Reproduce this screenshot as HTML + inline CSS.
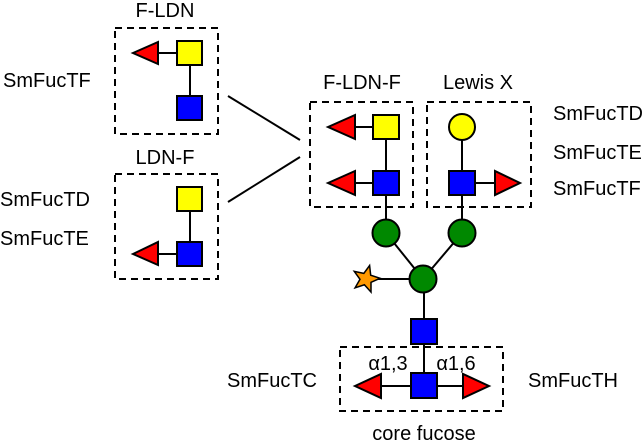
<!DOCTYPE html>
<html><head><meta charset="utf-8"><style>html,body{margin:0;padding:0;background:#fff}</style></head>
<body>
<svg width="644" height="441" viewBox="0 0 644 441" xmlns="http://www.w3.org/2000/svg" font-family="Liberation Sans, sans-serif" font-size="20">
<g fill="none" stroke="#000" stroke-width="2" stroke-dasharray="7,5">
<rect x="115" y="28" width="103" height="106"/>
<rect x="115" y="174" width="103" height="105"/>
<rect x="310" y="102" width="103" height="105"/>
<rect x="427" y="102" width="104" height="105"/>
<rect x="340" y="347" width="163" height="64"/>
</g>
<g stroke="#000" stroke-width="2">
<line x1="228" y1="96" x2="300" y2="140"/>
<line x1="228" y1="202" x2="300" y2="157"/>
<line x1="190" y1="53" x2="145" y2="53"/><line x1="190" y1="53" x2="190" y2="108"/>
<line x1="190" y1="199" x2="190" y2="254"/><line x1="190" y1="254" x2="145" y2="254"/>
<line x1="386" y1="127" x2="340" y2="127"/><line x1="386" y1="127" x2="386" y2="233"/><line x1="386" y1="183" x2="340" y2="183"/>
<line x1="462" y1="127" x2="462" y2="233"/><line x1="462" y1="183" x2="510" y2="183"/>
<line x1="386" y1="233" x2="423" y2="279"/><line x1="462" y1="233" x2="423" y2="279"/>
<line x1="367" y1="279" x2="423" y2="279"/><line x1="424" y1="279" x2="424" y2="386"/>
<line x1="365" y1="386" x2="480" y2="386"/>
</g>
<g stroke="#000" stroke-width="2">
<polygon points="133,53 158,42 158,64" fill="#f00"/>
<rect x="177" y="41" width="25" height="24" fill="#ff0"/>
<rect x="177" y="96" width="25" height="24" fill="#00f"/>
<rect x="177" y="187" width="25" height="24" fill="#ff0"/>
<rect x="177" y="242" width="25" height="24" fill="#00f"/>
<polygon points="133,254 158,242 158,265" fill="#f00"/>
<polygon points="328,127 355,115 355,139" fill="#f00"/>
<rect x="373" y="115" width="26" height="24" fill="#ff0"/>
<polygon points="328,183 355,171 355,195" fill="#f00"/>
<rect x="373" y="171" width="26" height="24" fill="#00f"/>
<circle cx="462" cy="127" r="13" fill="#ff0"/>
<rect x="449" y="171" width="26" height="24" fill="#00f"/>
<polygon points="520,183 495,171 495,195" fill="#f00"/>
<circle cx="386" cy="233" r="13.5" fill="#080"/>
<circle cx="462" cy="233" r="13.5" fill="#080"/>
<circle cx="423" cy="279" r="13.5" fill="#080"/>
<g transform="translate(366,279)">
<polygon points="3.6,-13.5 4.7,-3.8 14,-0.7 5,3.3 5,13.1 -1.6,5.8 -10.9,8.8 -6,0.3 -11.7,-7.6 -2.2,-5.6" fill="#f90" stroke-width="1.5"/>
</g>
<rect x="411" y="319" width="26" height="25" fill="#00f"/>
<rect x="411" y="373" width="26" height="25" fill="#00f"/>
<polygon points="355,386 381,374 381,398" fill="#f00"/>
<polygon points="489,386 463,374 463,398" fill="#f00"/>
</g>
<g fill="#000">
<text x="165" y="17" text-anchor="middle">F-LDN</text>
<text x="165" y="164" text-anchor="middle">LDN-F</text>
<text x="3" y="87">SmFucTF</text>
<text x="0" y="206">SmFucTD</text>
<text x="0" y="245">SmFucTE</text>
<text x="362" y="89" text-anchor="middle">F-LDN-F</text>
<text x="478" y="89" text-anchor="middle">Lewis X</text>
<text x="553" y="120">SmFucTD</text>
<text x="553" y="159">SmFucTE</text>
<text x="553" y="195">SmFucTF</text>
<text x="388" y="370" text-anchor="middle">α1,3</text>
<text x="456" y="370" text-anchor="middle">α1,6</text>
<text x="227" y="387">SmFucTC</text>
<text x="528" y="387">SmFucTH</text>
<text x="424" y="440" text-anchor="middle">core fucose</text>
</g>
</svg>
</body></html>
